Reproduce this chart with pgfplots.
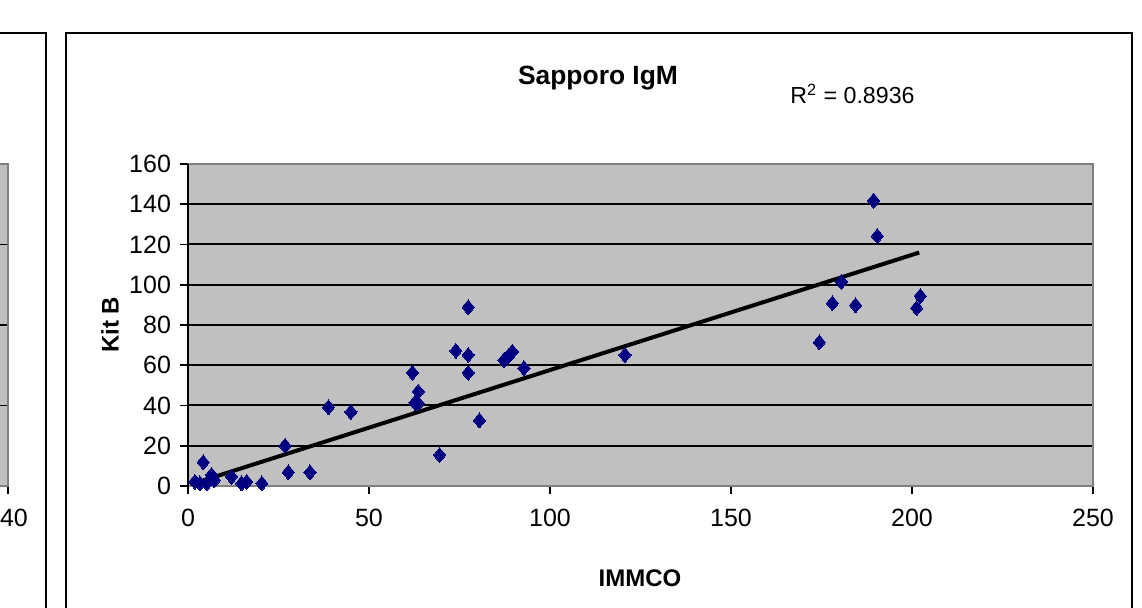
\documentclass[border=0pt]{standalone}
\usepackage{fontspec}
\setmainfont{Liberation Sans}
\usepackage{pgfplots}
\pgfplotsset{compat=1.18}
\definecolor{plotgray}{HTML}{C0C0C0}
\definecolor{bordergray}{HTML}{808080}
\definecolor{navy}{HTML}{000080}

\begin{document}
\begin{tikzpicture}
\useasboundingbox (0,0) rectangle (571pt,304pt);
\clip (0,0) rectangle (571pt,304pt);
% chart area frames
\draw[line width=1pt] (-20pt,-5pt) -- (23pt,-5pt) -- (23pt,287.5pt) -- (-20pt,287.5pt);
\draw[line width=1pt] (33pt,-5pt) rectangle (566pt,287.5pt);
% neighbouring chart, mostly cut off
\begin{axis}[
 at={(4pt,61pt)},anchor=south east,scale only axis,
 width=452.5pt,height=161pt,
 xmin=0,xmax=40,ymin=0,ymax=4,
 xtick={40},ytick={0,1,2,3},yticklabels={},ymajorgrids,
 major grid style={black,line width=0.9pt},
 axis background/.style={fill=plotgray},
 axis line style={bordergray,line width=0.6pt},
 xtick pos=bottom,ytick pos=left,tick align=outside,
 major tick length=4pt,tick style={black,line width=0.8pt},
 /pgf/number format/assume math mode=true,
 tick label style={font=\fontsize{12.5}{14}\selectfont},
 xticklabel style={yshift=-4pt,xshift=3pt}]
\end{axis}
% main chart
\begin{axis}[
 at={(94pt,61pt)},anchor=south west,scale only axis,
 width=452.5pt,height=161pt,
 xmin=0,xmax=250,ymin=0,ymax=160,
 xtick={0,50,...,250},ytick={0,20,...,140},
 extra y ticks={160},extra y tick style={grid=none},
 ymajorgrids,
 major grid style={black,line width=1pt},
 extra x ticks={0},extra x tick labels={},
 extra x tick style={xmajorgrids,major grid style={black,line width=1pt}},
 axis background/.style={fill=plotgray},
 axis line style={bordergray,line width=0.6pt},
 xtick pos=bottom,ytick pos=left,tick align=outside,
 major tick length=4pt,tick style={black,line width=0.8pt},
 /pgf/number format/assume math mode=true,
 tick label style={font=\fontsize{12.5}{14}\selectfont},
 xticklabel style={yshift=-4pt},
 yticklabel style={xshift=-1pt},
 clip=false]
\addplot[only marks,mark=diamond*,mark size=3.7pt,navy,mark options={xscale=1.1,draw=navy,fill=navy,line width=0pt}] coordinates {
(1.9,2.1) (3.3,1.3) (4.2,11.8) (5.2,1.3) (6.5,5.5) (7.3,2.9)
(12.0,4.6) (14.8,1.3) (16.2,2.1) (20.4,1.3)
(26.8,20.0) (27.7,6.8) (33.7,6.8) (38.8,39.1) (45.0,36.8)
(62.0,56.3) (62.7,41.4) (63.6,41.1) (63.6,46.9) (69.5,15.4)
(74.0,67.2) (77.4,88.8) (77.4,65.1) (77.4,56.3) (80.5,32.6)
(87.3,62.6) (88.5,64.6) (89.6,66.7) (92.8,58.6) (120.7,65.1)
(174.4,71.4) (178.0,90.8) (180.5,101.5) (184.4,89.8)
(189.4,141.8) (190.4,124.2) (201.3,88.4) (202.3,94.4)
};
\addplot[black,line width=2pt] coordinates {(2.0,1.5) (202.0,116.0)};
\end{axis}
\node[font=\bfseries\fontsize{13.2}{15}\selectfont] at (299pt,265pt) {Sapporo IgM};
\node[font=\fontsize{11.6}{14}\selectfont,anchor=west,inner sep=0pt] at (395pt,257pt) {R\textsuperscript{2} = 0.8936};
\node[font=\bfseries\fontsize{12}{14}\selectfont,rotate=90] at (55pt,141.5pt) {Kit B};
\node[font=\bfseries\fontsize{12}{14}\selectfont] at (320pt,15pt) {IMMCO};
\end{tikzpicture}
\end{document}
